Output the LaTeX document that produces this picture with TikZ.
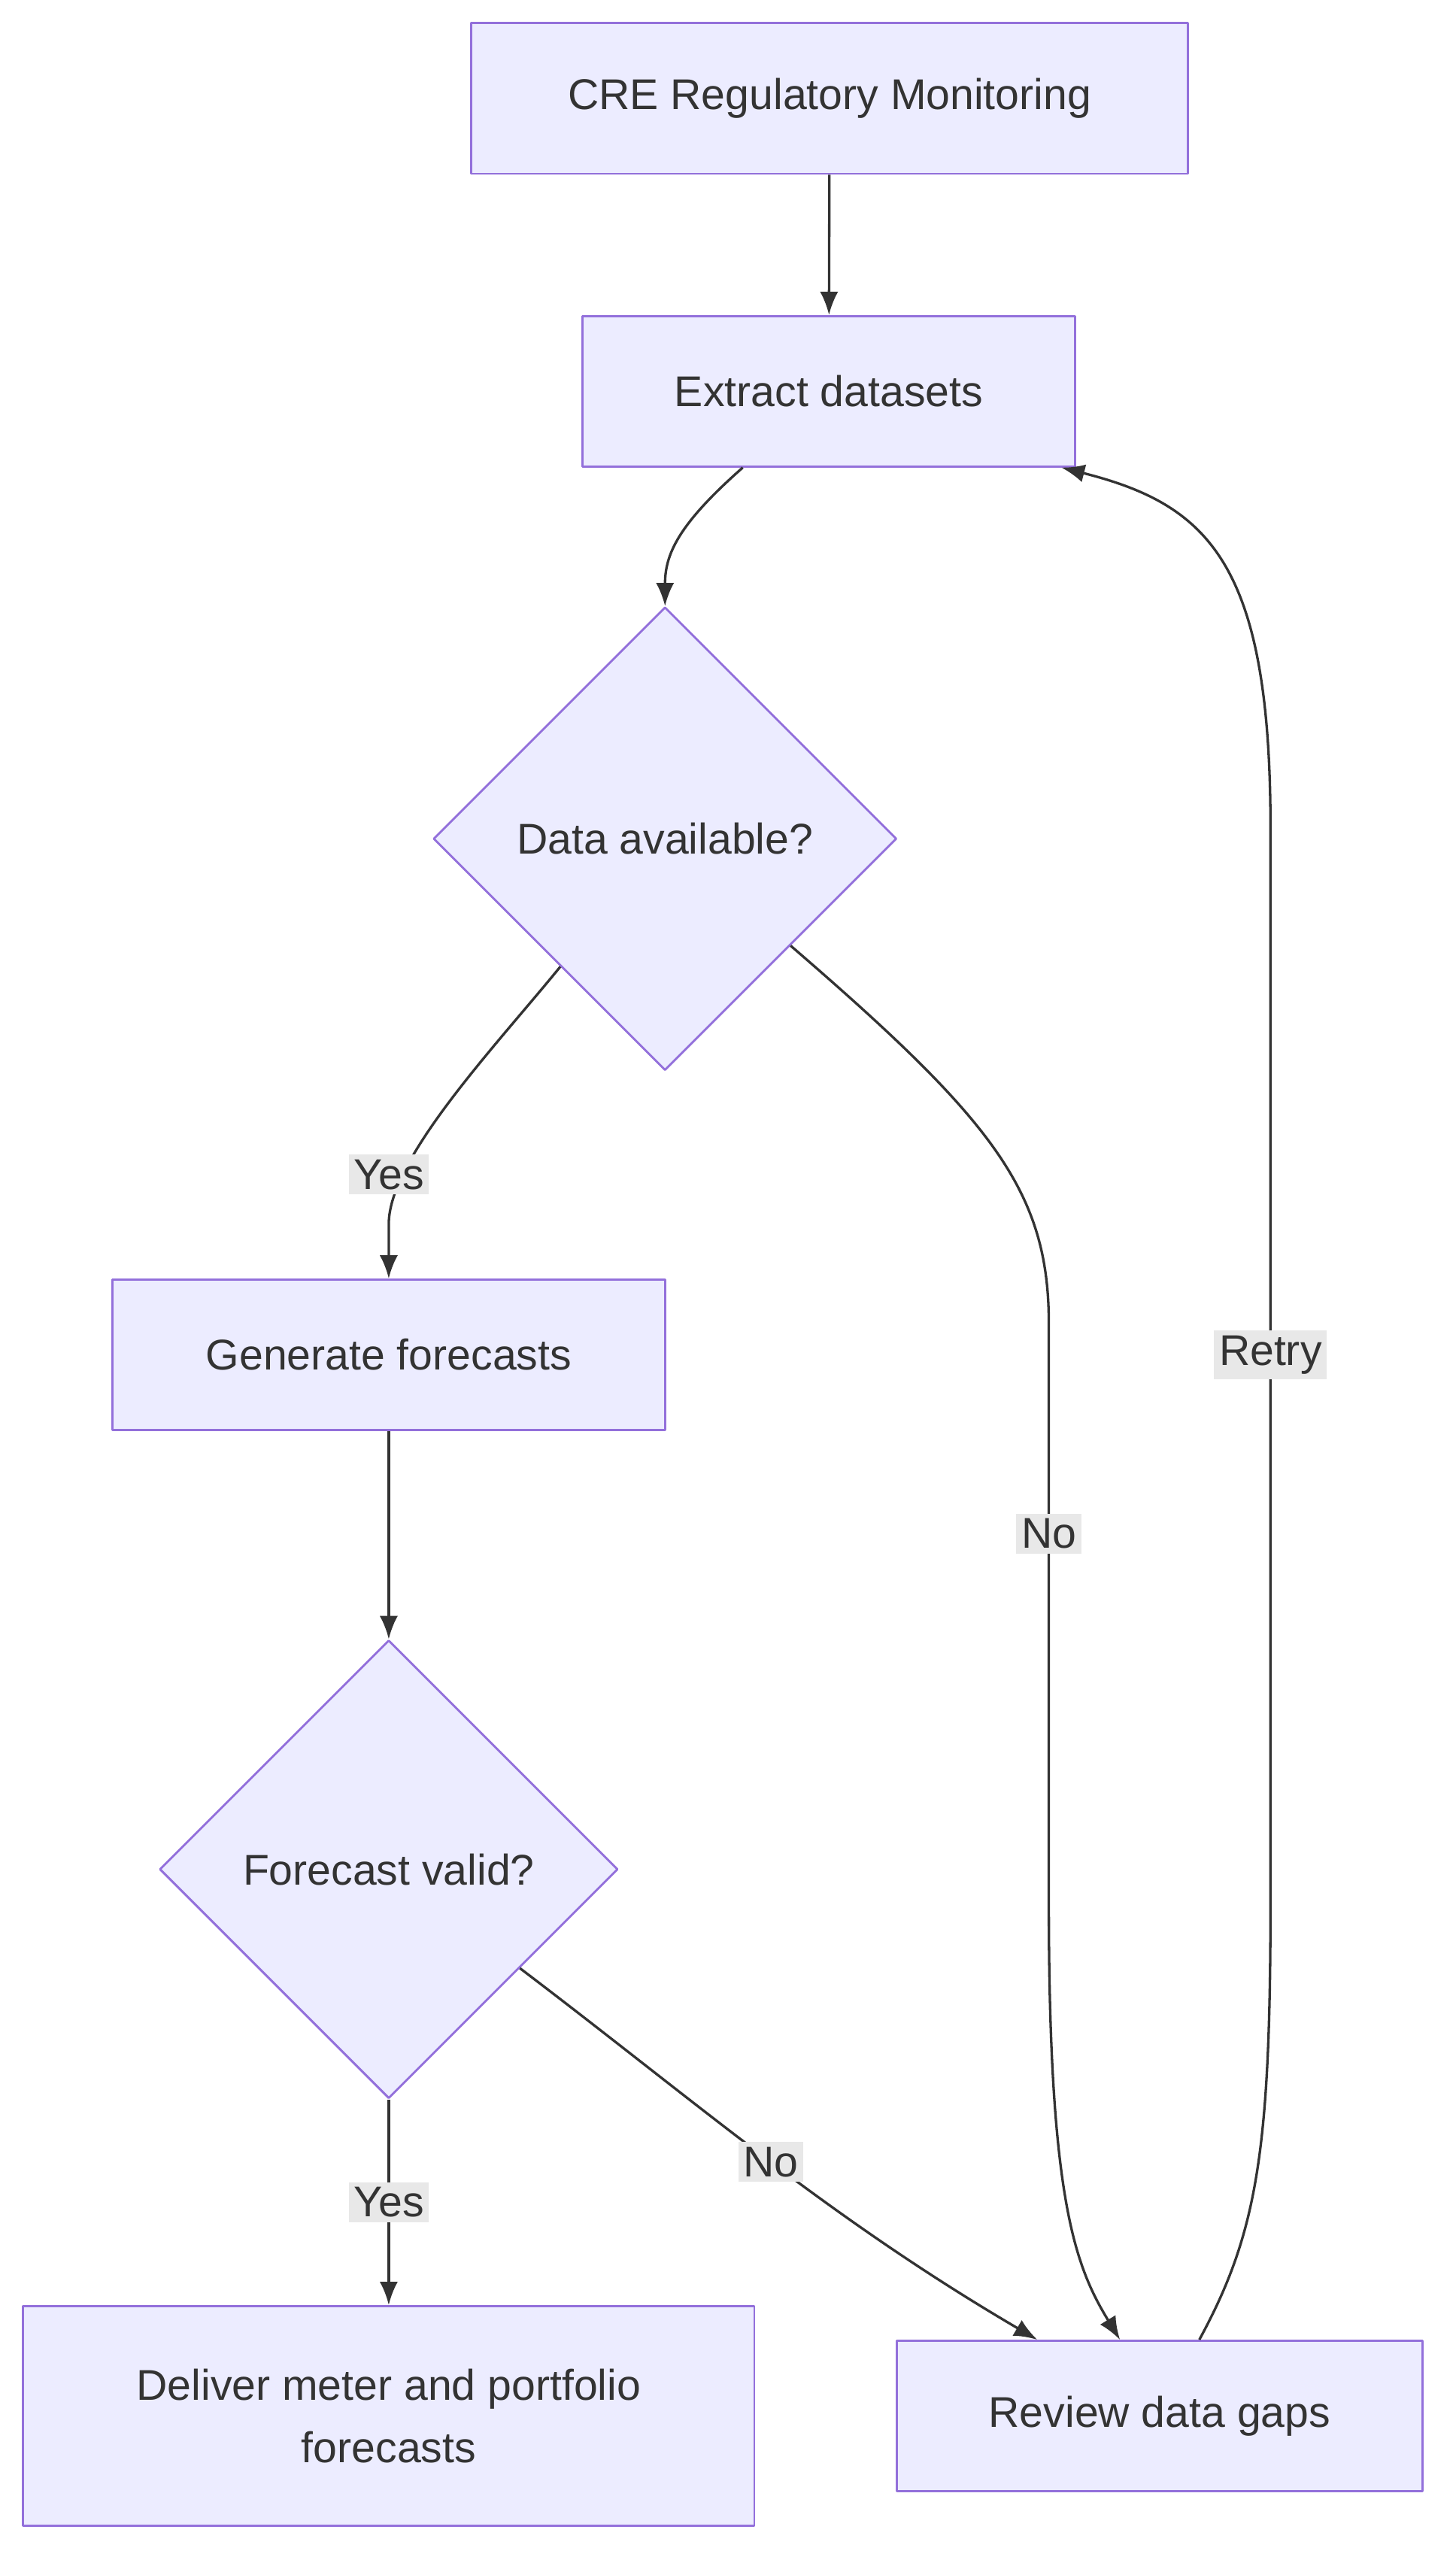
\documentclass[tikz,border=0pt]{standalone}
\usepackage{fontspec}
\setmainfont{Liberation Sans}
\usetikzlibrary{shapes.geometric,calc,arrows.meta}
\definecolor{boxfill}{HTML}{ECECFF}
\definecolor{boxline}{HTML}{9370DB}
\definecolor{inkcol}{HTML}{333333}
\definecolor{lblfill}{HTML}{E8E8E8}
\begin{document}
\begin{tikzpicture}[x=1pt,y=-1pt,>=latex,line join=bevel,
  box/.style={draw=boxline,fill=boxfill,line width=1.3pt,text=inkcol,minimum height=91pt,font=\fontsize{26}{38}\selectfont,align=center},
  dia/.style={diamond,draw=boxline,fill=boxfill,line width=1.3pt,text=inkcol,minimum width=280pt,minimum height=280pt,inner sep=0pt,font=\fontsize{26}{38}\selectfont},
  lbl/.style={fill=lblfill,text=inkcol,inner sep=3pt,font=\fontsize{26}{30}\selectfont},
  edge/.style={draw=inkcol,line width=1.5pt,-{Latex[length=14pt,width=11pt]}}]
  \useasboundingbox (0,0) rectangle (880,1553);
%%
  % Node: Monitor
  \node[box,minimum width=433pt] (monitor) at (501.5,59.5) {CRE Regulatory Monitoring};
  % Node: Extract
  \node[box,minimum width=298pt] (extract) at (501,236.5) {Extract datasets};
  % Node: Avail
  \node[dia] (avail) at (402,507) {Data available?};
  % Node: Generate
  \node[box,minimum width=334pt] (generate) at (235,819) {Generate forecasts};
  % Node: Valid
  \node[dia,minimum width=277pt,minimum height=277pt] (valid) at (235,1130) {Forecast valid?};
  % Node: Deliver
  \node[box,minimum width=442pt,minimum height=133pt] (deliver) at (235,1460.5) {Deliver meter and portfolio\\forecasts};
  % Node: Review
  \node[box,minimum width=318pt] (review) at (701,1460.5) {Review data gaps};
%%
  % Edge: Monitor -> Extract
  \draw[edge] (monitor) -- (extract);
  % Edge: Extract -> Avail
  \draw[edge] ([xshift=-52pt]extract.south) .. controls (410,317) and (402,335) .. (avail.north);
  % Edge: Avail -> Generate
  \draw[edge] ($(avail.west)!0.55!(avail.south)$) .. controls (300,632) and (235,700) .. (235,740) -- (generate.north);
  \node[lbl] (yes1) at (235,710) {Yes};
  % Edge: Avail -> Review
  \coordinate (nobend) at (634,800);
  \draw[edge] ($(avail.east)!0.46!(avail.south)$) .. controls (600,677) and (634,720) .. (nobend) -- (634,1150) .. controls (634,1330) and (650,1370) .. ([xshift=-24pt]review.north);
  \node[lbl] (no1) at (634,927) {No};
  % Edge: Generate -> Valid
  \draw[edge] (generate) -- (valid.north);
  % Edge: Valid -> Deliver
  \draw[edge] (valid.south) -- node[lbl] (yes2) {Yes} (deliver.north);
  % Edge: Valid -> Review
  \draw[edge] ($(valid.east)!0.43!(valid.south)$) .. controls (420,1270) and (500,1340) .. ([xshift=-74pt]review.north);
  \node[lbl] (no2) at (466,1307) {No};
  % Edge: Review -> Extract
  \coordinate (retrytop) at (768,500);
  \draw[edge] ([xshift=24pt]review.north) .. controls (760,1350) and (768,1300) .. (768,1150) -- (retrytop) .. controls (768,340) and (730,305) .. ([xshift=-9pt]extract.south east);
  \node[lbl] (retry) at (768,819) {Retry};
%
\end{tikzpicture}
\end{document}
